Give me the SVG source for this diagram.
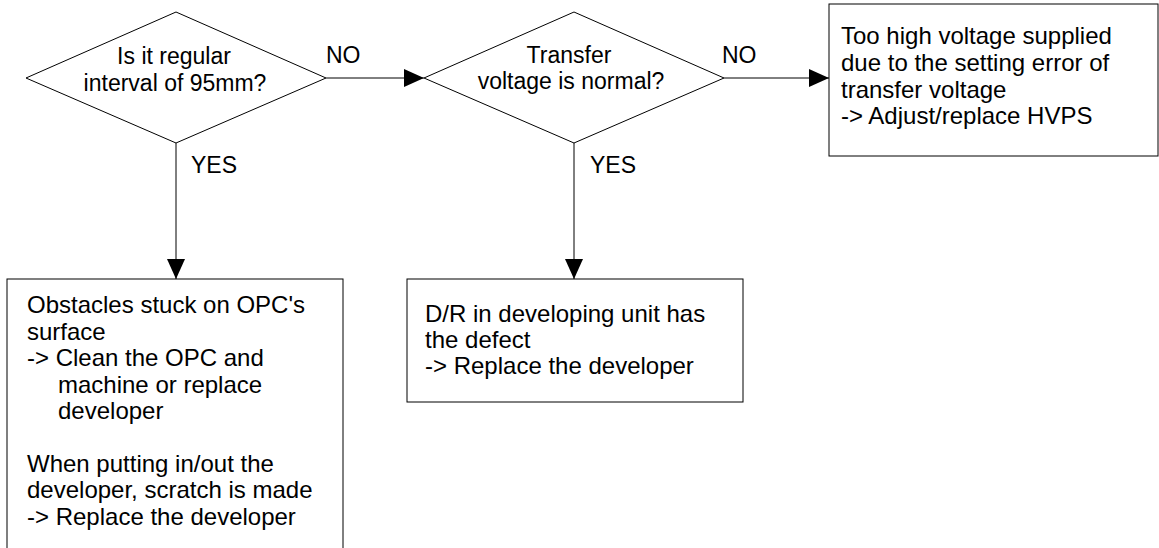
<svg xmlns="http://www.w3.org/2000/svg" width="1159" height="548" viewBox="0 0 1159 548">
<style>
.shape{fill:#fff;stroke:#000;stroke-width:1}
.t{font-family:"Liberation Sans",Arial,sans-serif;font-size:23px;fill:#000}
.b{font-size:24px}
.c{text-anchor:middle}
.conn{stroke:#000;stroke-width:1;fill:none}
</style>
<defs>
<marker id="ah" markerWidth="20" markerHeight="18" refX="20" refY="9" orient="auto" markerUnits="userSpaceOnUse">
<path d="M0,0 L20,9 L0,18 Z" fill="#000"/>
</marker>
</defs>
<rect width="1159" height="548" fill="#fff"/>
<g id="connectors">
<line class="conn" x1="326" y1="78" x2="424" y2="78" marker-end="url(#ah)"/>
<line class="conn" x1="724" y1="78" x2="829" y2="78" marker-end="url(#ah)"/>
<line class="conn" x1="176" y1="143" x2="176" y2="279" marker-end="url(#ah)"/>
<line class="conn" x1="574" y1="143" x2="574" y2="279" marker-end="url(#ah)"/>
<text class="t" x="326" y="63">NO</text>
<text class="t" x="722" y="63">NO</text>
<text class="t" x="191" y="173">YES</text>
<text class="t" x="590" y="173">YES</text>
</g>
<g id="decision1">
<polygon class="shape" points="176,12 326,78 176,143 26,78"/>
<text class="t c" x="174" y="64">Is it regular</text>
<text class="t c" x="175" y="91">interval of 95mm?</text>
</g>
<g id="decision2">
<polygon class="shape" points="574,12 724,78 574,143 424,78"/>
<text class="t c" x="569" y="63">Transfer</text>
<text class="t c" x="571" y="89">voltage is normal?</text>
</g>
<g id="box3">
<rect class="shape" x="829" y="4" width="329" height="152"/>
<text class="t b" x="841" y="44">Too high voltage supplied</text>
<text class="t b" x="841" y="71">due to the setting error of</text>
<text class="t b" x="841" y="98">transfer voltage</text>
<text class="t b" x="841" y="124">-&gt; Adjust/replace HVPS</text>
</g>
<g id="box1">
<rect class="shape" x="7" y="279" width="336" height="290"/>
<text class="t b" x="27" y="313">Obstacles stuck on OPC's</text>
<text class="t b" x="27" y="340">surface</text>
<text class="t b" x="27" y="366">-&gt; Clean the OPC and</text>
<text class="t b" x="58" y="393">machine or replace</text>
<text class="t b" x="58" y="419">developer</text>
<text class="t b" x="27" y="472">When putting in/out the</text>
<text class="t b" x="27" y="498">developer, scratch is made</text>
<text class="t b" x="27" y="525">-&gt; Replace the developer</text>
</g>
<g id="box2">
<rect class="shape" x="407" y="279" width="336" height="123"/>
<text class="t b" x="425" y="322">D/R in developing unit has</text>
<text class="t b" x="425" y="348">the defect</text>
<text class="t b" x="425" y="374">-&gt; Replace the developer</text>
</g>
</svg>
